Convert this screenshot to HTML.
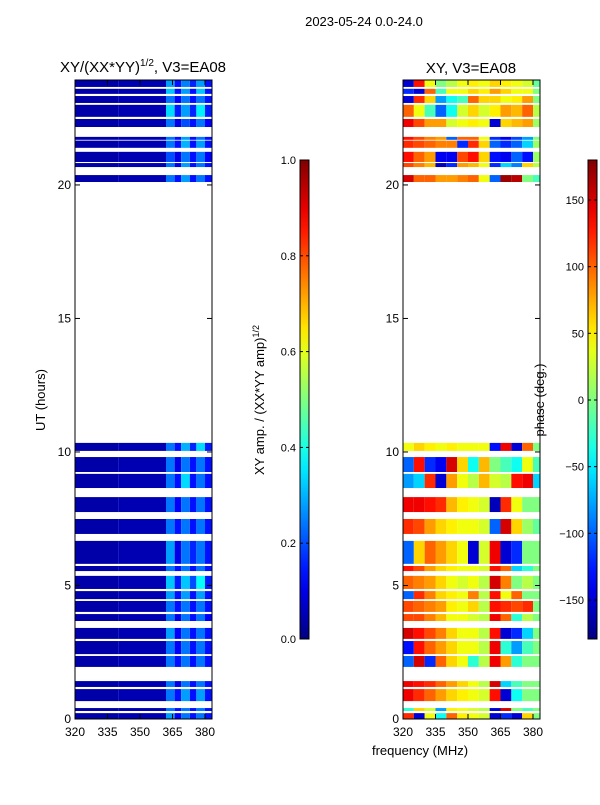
<!DOCTYPE html>
<html><head><meta charset="utf-8"><style>
body{margin:0;background:#fff;}
svg text{font-family:"Liberation Sans","DejaVu Sans",sans-serif;fill:#000;}
</style></head><body>
<svg id="fig" width="600" height="800" xmlns="http://www.w3.org/2000/svg">
<rect width="600" height="800" fill="#fff"/>
<text x="364" y="26" font-size="13" text-anchor="middle">2023-05-24 0.0-24.0</text>
<text x="143" y="72" font-size="15" text-anchor="middle">XY/(XX*YY)<tspan font-size="10" dy="-6">1/2</tspan><tspan dy="6">, V3=EA08</tspan></text>
<text x="471" y="73" font-size="15" text-anchor="middle">XY, V3=EA08</text>
<text x="45" y="400" font-size="13" text-anchor="middle" transform="rotate(-90 45 400)">UT (hours)</text>
<text x="420" y="755" font-size="13" text-anchor="middle">frequency (MHz)</text>
<text x="264" y="400" font-size="13" text-anchor="middle" transform="rotate(-90 264 400)">XY amp. / (XX*YY amp)<tspan font-size="9" dy="-5">1/2</tspan></text>
<text x="544" y="400" font-size="13" text-anchor="middle" transform="rotate(-90 544 400)">phase (deg.)</text>
<g id="g"></g>
</svg>
<script>
const blocks=[[23.67,23.93],[23.41,23.6],[23.07,23.33],[22.55,23.0],[22.17,22.47],[21.69,21.8],[21.39,21.66],[20.86,21.24],[20.67,20.82],[20.11,20.37],
[10.04,10.34],[9.25,9.81],[8.65,9.18],[7.75,8.31],[6.93,7.49],[5.81,6.67],[5.54,5.73],[4.87,5.36],[4.49,4.79],[4.01,4.42],[3.67,3.93],[3.0,3.41],[2.43,2.92],[1.95,2.36],[1.2,1.42],[0.67,1.12],[0.3,0.41],[0,0.22]];
const ampFreqEdges=[320,340,362,366,369,373,376,380,383.2];
const ampRows=[
[0.04,0.05,0.28,0.14,0.25,0.16,0.28,0.14],[0.04,0.05,0.32,0.14,0.28,0.14,0.32,0.14],[0.04,0.05,0.24,0.12,0.24,0.14,0.24,0.14],[0.04,0.05,0.34,0.15,0.28,0.16,0.36,0.15],[0.04,0.05,0.24,0.1,0.2,0.14,0.24,0.12],
[0.04,0.05,0.24,0.14,0.28,0.14,0.24,0.14],[0.04,0.05,0.24,0.14,0.3,0.14,0.28,0.14],[0.04,0.05,0.2,0.1,0.24,0.14,0.24,0.12],[0.04,0.05,0.24,0.1,0.28,0.14,0.24,0.14],[0.04,0.05,0.24,0.14,0.28,0.14,0.24,0.14],
[0.04,0.05,0.24,0.14,0.3,0.16,0.34,0.15],[0.04,0.05,0.24,0.1,0.24,0.14,0.24,0.14],[0.04,0.05,0.24,0.14,0.34,0.14,0.24,0.14],[0.04,0.05,0.24,0.12,0.24,0.14,0.24,0.14],[0.04,0.05,0.24,0.14,0.24,0.14,0.24,0.14],
[0.04,0.05,0.28,0.1,0.24,0.16,0.24,0.14],[0.04,0.05,0.24,0.14,0.24,0.14,0.24,0.14],[0.04,0.05,0.32,0.15,0.32,0.2,0.38,0.15],[0.04,0.05,0.28,0.14,0.28,0.14,0.28,0.14],[0.04,0.05,0.24,0.14,0.24,0.14,0.24,0.14],
[0.04,0.05,0.24,0.1,0.24,0.14,0.24,0.12],[0.04,0.05,0.28,0.12,0.24,0.14,0.24,0.14],[0.04,0.05,0.24,0.12,0.24,0.14,0.24,0.14],[0.04,0.05,0.24,0.14,0.24,0.14,0.24,0.14],
[0.04,0.05,0.24,0.1,0.24,0.14,0.24,0.14],[0.04,0.05,0.24,0.14,0.28,0.14,0.28,0.14],[0.04,0.05,0.24,0.14,0.24,0.14,0.24,0.14],[0.04,0.05,0.28,0.12,0.24,0.14,0.24,0.14]];
const phaseFreqEdges=[320,325,330,335,340,345,350,355,360,365,370,375,380,383.2];
const phaseRows=[
[-150,130,40,0,20,40,50,40,60,50,40,30,-10],[-120,-150,100,-20,40,40,60,50,80,60,40,40,0],[-150,120,60,-80,-40,-20,100,60,60,40,50,80,0],[100,40,-20,-100,-40,30,60,30,50,80,70,100,20],[140,110,80,80,30,40,50,40,-150,60,70,80,10],
[130,110,90,80,-100,100,100,40,-120,-140,-110,-80,0],[120,110,100,90,90,-120,120,60,-100,-120,-100,-60,10],[130,100,80,-140,-140,110,130,60,-130,-140,-100,-130,10],[110,90,70,-160,-120,80,70,40,-120,-60,-90,60,20],[150,100,100,80,80,90,100,40,-100,170,160,0,-20],
[40,60,50,40,50,40,40,40,-130,140,-150,100,0],[-100,130,-120,-140,150,60,-40,70,0,-20,-40,40,-20],[-80,-60,120,-150,80,40,20,70,30,20,130,140,-60],[140,140,130,120,70,50,40,30,-160,120,40,0,0],[120,110,80,60,50,40,40,30,-100,150,60,10,-10],
[-100,60,100,80,60,40,-150,30,140,-150,-120,0,0],[130,110,80,60,50,40,40,30,130,100,-60,-30,0],[100,90,80,60,40,30,40,20,150,90,0,20,0],[-100,120,90,60,50,40,90,20,130,40,100,0,0],[110,100,90,80,50,40,60,20,130,120,110,120,0],
[110,110,90,70,40,40,30,20,140,100,-30,20,0],[150,130,110,90,60,40,40,20,130,-150,-120,-60,0],[-130,130,100,80,60,40,40,20,140,-30,-80,-20,0],[-100,150,-120,100,60,40,-30,20,140,80,-30,0,0],
[140,130,120,100,80,60,40,20,150,-60,-20,0,0],[140,120,100,80,60,50,40,30,130,-150,-40,0,0],[-30,60,30,-80,50,40,30,20,-150,150,0,-20,0],[120,-150,40,-40,100,50,40,30,-150,-120,-150,60,0]];
const yTicks=[0,5,10,15,20];
const xTicks=[320,335,350,365,380];
const ampTicks=[0.0,0.2,0.4,0.6,0.8,1.0];
const phaseTicks=[-150,-100,-50,0,50,100,150];

const NS="http://www.w3.org/2000/svg";
const G=document.getElementById('g');
function mk(t,a,p){const e=document.createElementNS(NS,t);for(const k in a)e.setAttribute(k,a[k]);(p||G).appendChild(e);return e;}
function jet(v){v=Math.max(0,Math.min(1,v));
 const f=x=>Math.max(0,Math.min(1,x));
 const r=f(1.5-Math.abs(4*v-3)),g=f(1.5-Math.abs(4*v-2)),b=f(1.5-Math.abs(4*v-1));
 return `rgb(${Math.round(r*255)},${Math.round(g*255)},${Math.round(b*255)})`;}
const Y0=719,Y1=80,H0=0,H1=23.93;
const yS=h=>Y0-(h-H0)*(Y0-Y1)/(H1-H0);
function xS(px){return f=>px+(f-320)*(130/60);}
const panels=[{x:75,edges:ampFreqEdges,rows:ampRows,norm:v=>v,name:'amp'},{x:403,edges:phaseFreqEdges,rows:phaseRows,norm:v=>(v+180)/360,name:'phase'}];
panels.forEach(P=>{
 const xs=xS(P.x);
 blocks.forEach((b,i)=>{
  for(let j=0;j<P.edges.length-1;j++){
   const r=mk('rect',{x:xs(P.edges[j]),y:yS(b[1]),width:xs(P.edges[j+1])-xs(P.edges[j]),height:yS(b[0])-yS(b[1]),fill:jet(P.norm(P.rows[i][j]))});
   
   
  }
 });
 const fr=mk('rect',{x:P.x,y:80,width:137,height:639,fill:'none',stroke:'#000','stroke-width':1});
 
 
 yTicks.forEach(t=>{const y=yS(t);
  mk('line',{x1:P.x,x2:P.x+5,y1:y,y2:y,stroke:'#000'});mk('line',{x1:P.x+137,x2:P.x+132,y1:y,y2:y,stroke:'#000'});
  const tx=mk('text',{x:P.x-4,y:y+4,'font-size':12,'text-anchor':'end'});tx.textContent=t;
  
  });
 xTicks.forEach(t=>{const x=xs(t);
  mk('line',{x1:x,x2:x,y1:719,y2:714,stroke:'#000'});mk('line',{x1:x,x2:x,y1:80,y2:85,stroke:'#000'});
  const tx=mk('text',{x:x,y:736,'font-size':12,'text-anchor':'middle'});tx.textContent=t;
  
  });
});
const defs=mk('defs',{});
const lg=mk('linearGradient',{id:'jg',x1:0,y1:1,x2:0,y2:0},defs);
for(let i=0;i<=20;i++)mk('stop',{offset:i/20,'stop-color':jet(i/20)},lg);
[{x:300,ticks:ampTicks,sc:v=>639-v*479,fmt:v=>v.toFixed(1),name:'amp-colorbar'},{x:588,ticks:phaseTicks,sc:v=>400-v*(240/180),fmt:v=>String(v).replace('-','\u2212'),name:'phase-colorbar'}].forEach(C=>{
 const r=mk('rect',{x:C.x,y:160,width:9,height:479,fill:'url(#jg)',stroke:'#000'});
 
 
 C.ticks.forEach(t=>{const y=C.sc(t);
  mk('line',{x1:C.x,x2:C.x+3,y1:y,y2:y,stroke:'#000'});mk('line',{x1:C.x+9,x2:C.x+6,y1:y,y2:y,stroke:'#000'});
  const tx=mk('text',{x:C.x-4,y:y+4,'font-size':11,'text-anchor':'end'});tx.textContent=C.fmt(t);
  
  });
});
</script>
</body></html>
